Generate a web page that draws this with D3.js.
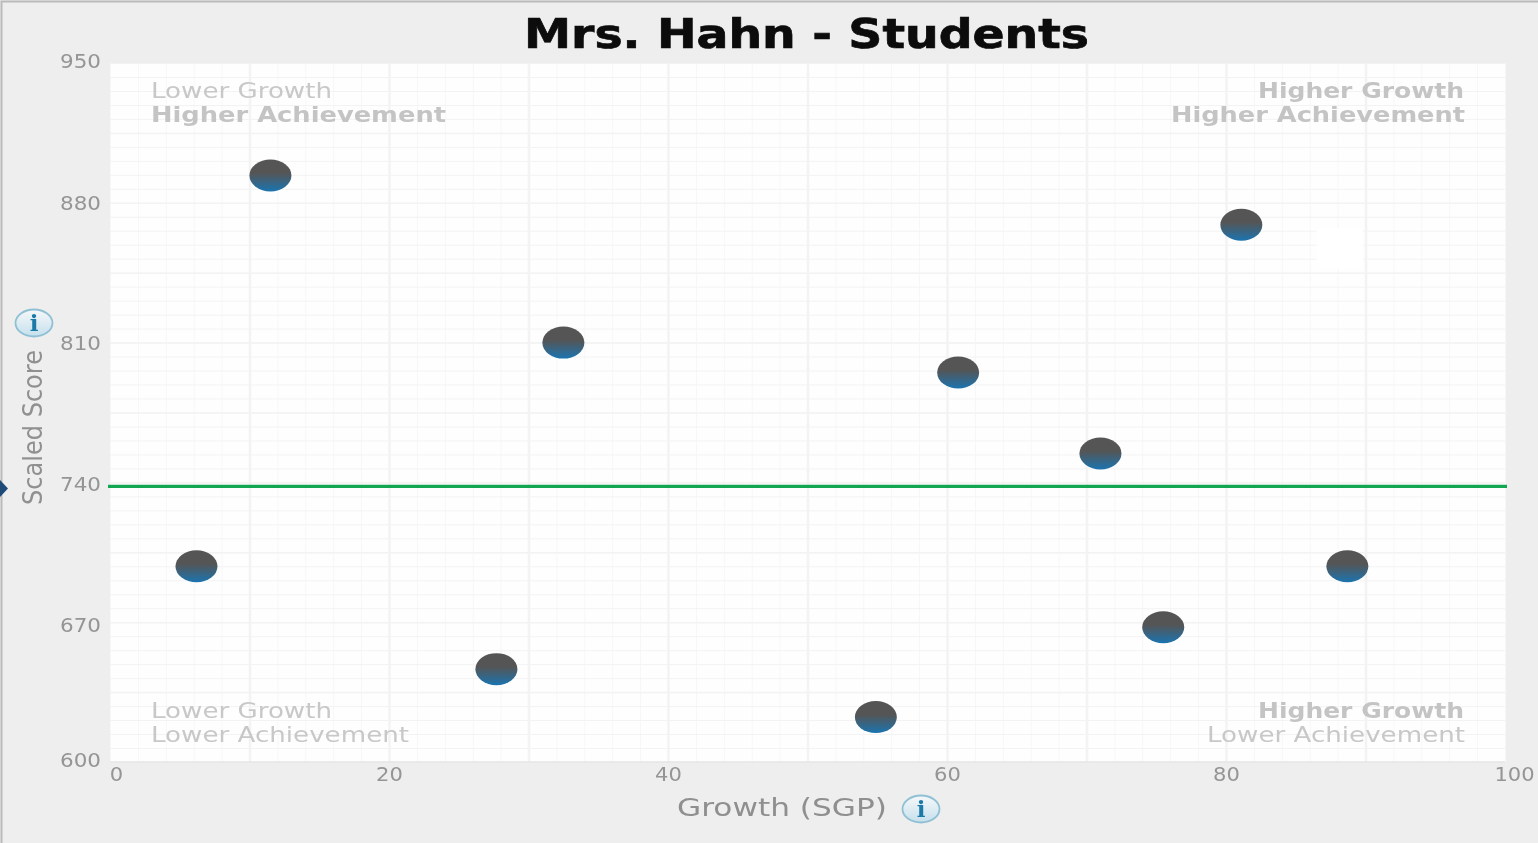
<!DOCTYPE html>
<html>
<head>
<meta charset="utf-8">
<title>Mrs. Hahn - Students</title>
<script src="https://cdn.jsdelivr.net/npm/d3@7"></script>
<style>
  html, body { margin: 0; padding: 0; background: #eee; overflow: hidden; }
  svg { display: block; font-family: "DejaVu Sans", sans-serif; }
</style>
</head>
<body>
<svg id="chart" width="1538" height="843"></svg>
<script>
const chartTitle = 'Mrs. Hahn - Students'
const xTitle = 'Growth (SGP)'
const yTitle = 'Scaled Score'

// values
const growth = [11.5, 6.2, 27.7, 32.5, 54.9, 60.8, 71, 75.5, 81.1, 88.7]
const scores = [893.7, 698, 646.5, 810, 622.5, 795, 754.5, 667.5, 869, 698]
const xTicks = [0, 20, 40, 60, 80, 100]
const yTicks = [600, 670, 740, 810, 880, 950]
const cutScore = 738

const quadrantTop = ['Lower Growth', 'Higher Growth']
const quadrantBottom = ['Higher Achievement', 'Lower Achievement']

const svg = d3.select('#chart')
const defs = svg.append('defs')

const soften = defs.append('filter').attr('id', 'soften')
  .attr('color-interpolation-filters', 'sRGB')
soften.append('feGaussianBlur').attr('stdDeviation', 0.6)

const dotFill = defs.append('linearGradient')
  .attr('id', 'dot-fill').attr('x1', 0).attr('y1', 0).attr('x2', 0).attr('y2', 1)
dotFill.append('stop').attr('offset', '42%').attr('stop-color', '#555555')
dotFill.append('stop').attr('offset', '100%').attr('stop-color', '#1b74b0')

const infoFill = defs.append('linearGradient')
  .attr('id', 'info-fill').attr('x1', 0).attr('y1', 0).attr('x2', 0).attr('y2', 1)
infoFill.append('stop').attr('offset', '0%').attr('stop-color', '#f6f8f9')
infoFill.append('stop').attr('offset', '100%').attr('stop-color', '#c5e0ec')

const root = svg.append('g').attr('filter', 'url(#soften)')

root.append('rect').attr('width', 1538).attr('height', 843).attr('fill', '#eeeeee')
root.append('path').attr('d', 'M1.5,843V1.5H1538')
  .attr('fill', 'none').attr('stroke', '#bababa').attr('stroke-width', 2)

const x = d3.scaleLinear().domain([0, 100]).range([110, 1505])
const y = d3.scaleLinear().domain([600, 950]).range([762, 63])

root.append('rect')
  .attr('x', x(0)).attr('y', y(950))
  .attr('width', x(100) - x(0)).attr('height', y(600) - y(950))
  .attr('fill', '#fefefe')

function drawGrid(xValues, yValues, xColor, yColor, xWidth, yWidth) {
  const gx = root.append('g')
    .attr('transform', `translate(0,${y(600)})`)
    .call(d3.axisBottom(x).tickValues(xValues).tickSize(y(950) - y(600)).tickFormat(''))
  const gy = root.append('g')
    .attr('transform', `translate(${x(0)},0)`)
    .call(d3.axisLeft(y).tickValues(yValues).tickSize(x(0) - x(100)).tickFormat(''))
  gx.select('.domain').remove()
  gy.select('.domain').remove()
  gx.selectAll('line').attr('stroke', xColor).attr('stroke-width', xWidth)
  gy.selectAll('line').attr('stroke', yColor).attr('stroke-width', yWidth)
}

drawGrid(d3.range(0, 101, 2), d3.range(600, 951, 7), '#f7f7f7', '#f3f3f3', 1, 1)
drawGrid(d3.range(10, 100, 10), d3.range(635, 950, 35), '#f3f3f3', '#f3f3f3', 2.5, 1.5)

// stray white box in the original screenshot
root.append('rect')
  .attr('x', x(86.5)).attr('y', y(867.5))
  .attr('width', x(89.8) - x(86.5)).attr('height', y(847) - y(867.5))
  .attr('fill', '#ffffff')

// plot bottom edge
root.append('line')
  .attr('x1', x(0)).attr('x2', x(100)).attr('y1', y(600)).attr('y2', y(600))
  .attr('stroke', '#e4e4e4').attr('stroke-width', 1.5)

// axes
const xAxis = root.append('g')
  .attr('transform', `translate(0,${y(600)})`)
  .call(d3.axisBottom(x).tickValues(xTicks).tickSize(0).tickPadding(6))
xAxis.select('.domain').remove()
xAxis.selectAll('text')
  .attr('font-size', 19).attr('font-family', '"DejaVu Sans", sans-serif').attr('fill', '#959595')
  .attr('textLength', d => (String(d).length * 13.4))
  .attr('lengthAdjust', 'spacingAndGlyphs')
  .attr('dx', d => d === 0 ? 6 : d === 100 ? 9 : 0)

const yLabelShift = { 950: 4, 880: 6.5, 810: 6.5, 740: 8.5, 670: 9, 600: 4 }
const yAxis = root.append('g')
  .attr('transform', `translate(${x(0)},0)`)
  .call(d3.axisLeft(y).tickValues(yTicks).tickSize(0).tickPadding(9))
yAxis.select('.domain').remove()
yAxis.selectAll('text')
  .attr('font-size', 19).attr('font-family', '"DejaVu Sans", sans-serif').attr('fill', '#959595')
  .attr('textLength', 41)
  .attr('lengthAdjust', 'spacingAndGlyphs')
  .attr('dy', d => yLabelShift[d])

function stretchedText(parent, str, px, py, len, opts) {
  return parent.append('text')
    .attr('x', px).attr('y', py)
    .attr('text-anchor', opts.anchor || 'start')
    .attr('font-size', opts.size)
    .attr('font-weight', opts.weight || 'normal')
    .attr('fill', opts.fill)
    .attr('stroke', opts.stroke || 'none')
    .attr('stroke-width', opts.stroke ? 0.7 : 0)
    .attr('textLength', len)
    .attr('lengthAdjust', 'spacingAndGlyphs')
    .text(str)
}

// title
stretchedText(root, chartTitle, 524, 47.5, 565, { size: 40, weight: 'bold', fill: '#0c0c0c', stroke: '#0c0c0c' })

// axis titles
stretchedText(root, xTitle, 677, 816, 210, { size: 25, fill: '#8f8f8f' })
stretchedText(root.append('g').attr('transform', 'translate(42,505) rotate(-90)'), yTitle, 0, 0, 155, { size: 27, fill: '#909090' })

// quadrant captions
const quad = { size: 21, fill: '#c8c8c8' }
const quadBold = { size: 21, fill: '#c4c4c4', weight: 'bold' }
stretchedText(root, quadrantTop[0], 151, 98, 181, quad)
stretchedText(root, quadrantBottom[0], 151, 122, 295, quadBold)
stretchedText(root, quadrantTop[1], 1258, 98, 206, quadBold)
stretchedText(root, quadrantBottom[0], 1171, 122, 294, quadBold)
stretchedText(root, quadrantTop[0], 151, 718, 181, quad)
stretchedText(root, quadrantBottom[1], 151, 742, 258, quad)
stretchedText(root, quadrantTop[1], 1258, 718, 206, quadBold)
stretchedText(root, quadrantBottom[1], 1207, 742, 258, quad)

// cut score line
root.append('line')
  .attr('x1', x(0) - 2).attr('x2', x(100) + 2)
  .attr('y1', y(cutScore)).attr('y2', y(cutScore))
  .attr('stroke', '#12a552').attr('stroke-width', 3.4)

// marker at the axis edge
root.append('path')
  .attr('d', 'M0,480L8,488.5L0,497Z')
  .attr('fill', '#1d4a78')

// students
root.append('g').selectAll('ellipse')
  .data(growth.map((g, i) => ({ growth: g, score: scores[i] })))
  .join('ellipse')
  .attr('cx', d => x(d.growth))
  .attr('cy', d => y(d.score))
  .attr('rx', 21)
  .attr('ry', 16)
  .attr('fill', 'url(#dot-fill)')

// info buttons
function infoIcon(cx, cy) {
  const g = root.append('g').attr('transform', `translate(${cx},${cy})`)
  g.append('ellipse').attr('rx', 18.5).attr('ry', 13.5)
    .attr('fill', 'url(#info-fill)').attr('stroke', '#8fc0d4').attr('stroke-width', 1.8)
  g.append('text').attr('text-anchor', 'middle').attr('y', 8)
    .attr('font-family', '"DejaVu Serif", serif').attr('font-weight', 'bold')
    .attr('font-size', 23).attr('fill', '#1b7aa8').text('i')
}
infoIcon(34, 323)
infoIcon(921, 809)
</script>
</body>
</html>
